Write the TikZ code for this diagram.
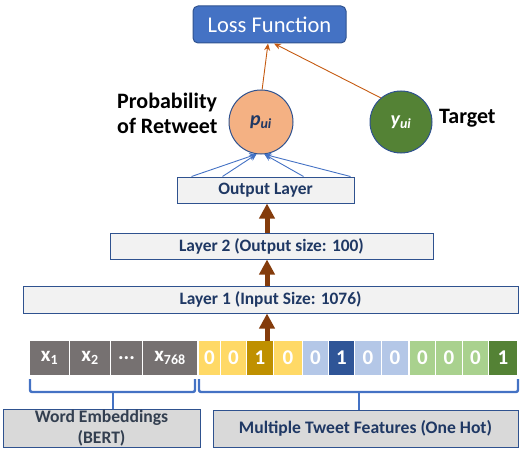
\documentclass[tikz,border=0pt]{standalone}
\usepackage{fontspec}
\setmainfont{Carlito}
\usetikzlibrary{arrows.meta,calc}
\definecolor{lossblue}{HTML}{4472C4}
\definecolor{edgeblue}{HTML}{2F528F}
\definecolor{navy}{HTML}{1F3864}
\definecolor{slate}{HTML}{333F50}
\definecolor{peach}{HTML}{F4B183}
\definecolor{dgreen}{HTML}{548235}
\definecolor{orng}{HTML}{C55A11}
\definecolor{brwn}{HTML}{843C0C}
\definecolor{boxgray}{HTML}{F2F2F2}
\definecolor{lblgray}{HTML}{D9D9D9}
\definecolor{cgray}{HTML}{767171}
\definecolor{cyel}{HTML}{FFD966}
\definecolor{cgold}{HTML}{BF9000}
\definecolor{clblue}{HTML}{B4C7E7}
\definecolor{cdblue}{HTML}{2F5597}
\definecolor{clgreen}{HTML}{A9D18E}
\definecolor{cdgreen}{HTML}{548235}
\tikzset{
  layerbox/.style={draw=edgeblue, line width=1pt, fill=boxgray, inner sep=0pt,
    text=navy, font=\fontsize{17.4}{20}\selectfont\bfseries},
  lblbox/.style={draw=edgeblue, line width=1pt, fill=lblgray, inner sep=0pt,
    font=\fontsize{17.6}{20.5}\selectfont\bfseries, align=center},
  cell/.style={inner sep=0pt, text=white, minimum height=34pt,
    font=\fontsize{21}{22}\selectfont\bfseries},
  brarrow/.style={draw=brwn, line width=5pt, -{Triangle[width=15pt,length=15pt]}},
  bluearr/.style={draw=lossblue, line width=0.9pt, -{Stealth[width=7pt,length=7pt]}},
  orarr/.style={draw=orng, line width=0.9pt, -{Stealth[width=6pt,length=7pt]}},
  bracket/.style={draw=lossblue, line width=2.4pt, rounded corners=2pt},
  circ/.style={circle, draw=edgeblue, line width=1pt, inner sep=0pt},
  sidelbl/.style={font=\fontsize{22}{25}\selectfont\bfseries, align=left, inner sep=0pt}
}
\newcommand{\bsub}[1]{\textsubscript{\fontsize{14}{14}\selectfont #1}}
\begin{document}
\begin{tikzpicture}[x=1pt,y=-1pt]
\useasboundingbox (0,0) rectangle (525,452);
% top
\node[draw=edgeblue, fill=lossblue, rounded corners=5pt, line width=1pt,
  minimum width=153pt, minimum height=37pt, inner sep=0pt, text=white,
  font=\fontsize{22.5}{26}\selectfont] (loss) at (269.5,24.5) {Loss Function};
\node[circ, fill=peach, minimum size=64pt, text=navy,
  font=\fontsize{20}{22}\selectfont\bfseries\itshape] (p) at (261,122) {p\textsubscript{ui}};
\node[circ, fill=dgreen, minimum size=62pt, text=white,
  font=\fontsize{20}{22}\selectfont\bfseries\itshape] (y) at (401,122) {y\textsubscript{ui}};
\node[sidelbl, anchor=west] (prob) at (117,113) {Probability\\of Retweet};
\node[sidelbl, anchor=west] (tgt) at (439,118) {Target};
% layers
\node[layerbox, minimum width=177pt, minimum height=26pt] (out) at (265.5,190) {Output Layer};
\node[layerbox, minimum width=323pt, minimum height=26pt] (l2) at (271.5,246) {Layer 2 (Output size: 100)};
\node[layerbox, minimum width=495pt, minimum height=27pt] (l1) at (270.5,299.5) {Layer 1 (Input Size: 1076)};
% cells
\foreach \l/\r/\c/\t [count=\i] in {
  30/69/cgray/{x\bsub{1}}, 70/110/cgray/{x\bsub{2}},
  111/142/cgray/{...}, 143/197/cgray/{x\bsub{768}},
  199/220/cyel/0, 221/246/cyel/0, 247/273/cgold/1, 274/302/cyel/0,
  303/328/clblue/0, 329/354/cdblue/1, 355/381/clblue/0, 382/408/clblue/0,
  410/435/clgreen/0, 436/462/clgreen/0, 463/488/clgreen/0, 489/517/cdgreen/1}{
  \pgfmathsetmacro\w{\r-\l}
  \pgfmathsetmacro\cx{(\l+\r)/2}
  \node[cell, fill=\c, minimum width=\w pt] (c\i) at (\cx,358) {\t};
}
% label boxes
\node[lblbox, minimum width=197pt, minimum height=38pt, text=slate] (we) at (101.5,428) {Word Embeddings\\(BERT)};
\node[lblbox, minimum width=305pt, minimum height=37pt, text=navy] (mt) at (365.5,428.5) {Multiple Tweet Features (One Hot)};
% brackets
\draw[bracket] (30,379) -- (30,392) -- (195,392) -- (195,379);
\draw[draw=lossblue, line width=2.4pt] (113,392) -- (113,392 |- we.north);
\draw[bracket] (199,379) -- (199,392) -- (518,392) -- (518,379);
\draw[draw=lossblue, line width=2.4pt] (359,392) -- (359,392 |- mt.north);
% brown arrows
\coordinate (ax) at (267,0);
\draw[brarrow] (ax |- c7.north) -- (ax |- l1.south);
\draw[brarrow] (ax |- l1.north) -- (ax |- l2.south);
\draw[brarrow] (ax |- l2.north) -- (ax |- out.south);
% blue arrows
\draw[bluearr] ($(out.north west)+(15,0)$) -- (p.262);
\draw[bluearr] ($(out.north west)+(46,0)$) -- (p.262);
\draw[bluearr] ($(out.north west)+(127,0)$) -- (p.276);
\draw[bluearr] ($(out.north west)+(174,0)$) -- (p.276);
% orange arrows
\draw[orarr] (p.88) -- ($(loss.south)+(-1.5,0)$);
\draw[orarr] (y.130) -- ($(loss.south)+(4.5,0)$);
\end{tikzpicture}
\end{document}
